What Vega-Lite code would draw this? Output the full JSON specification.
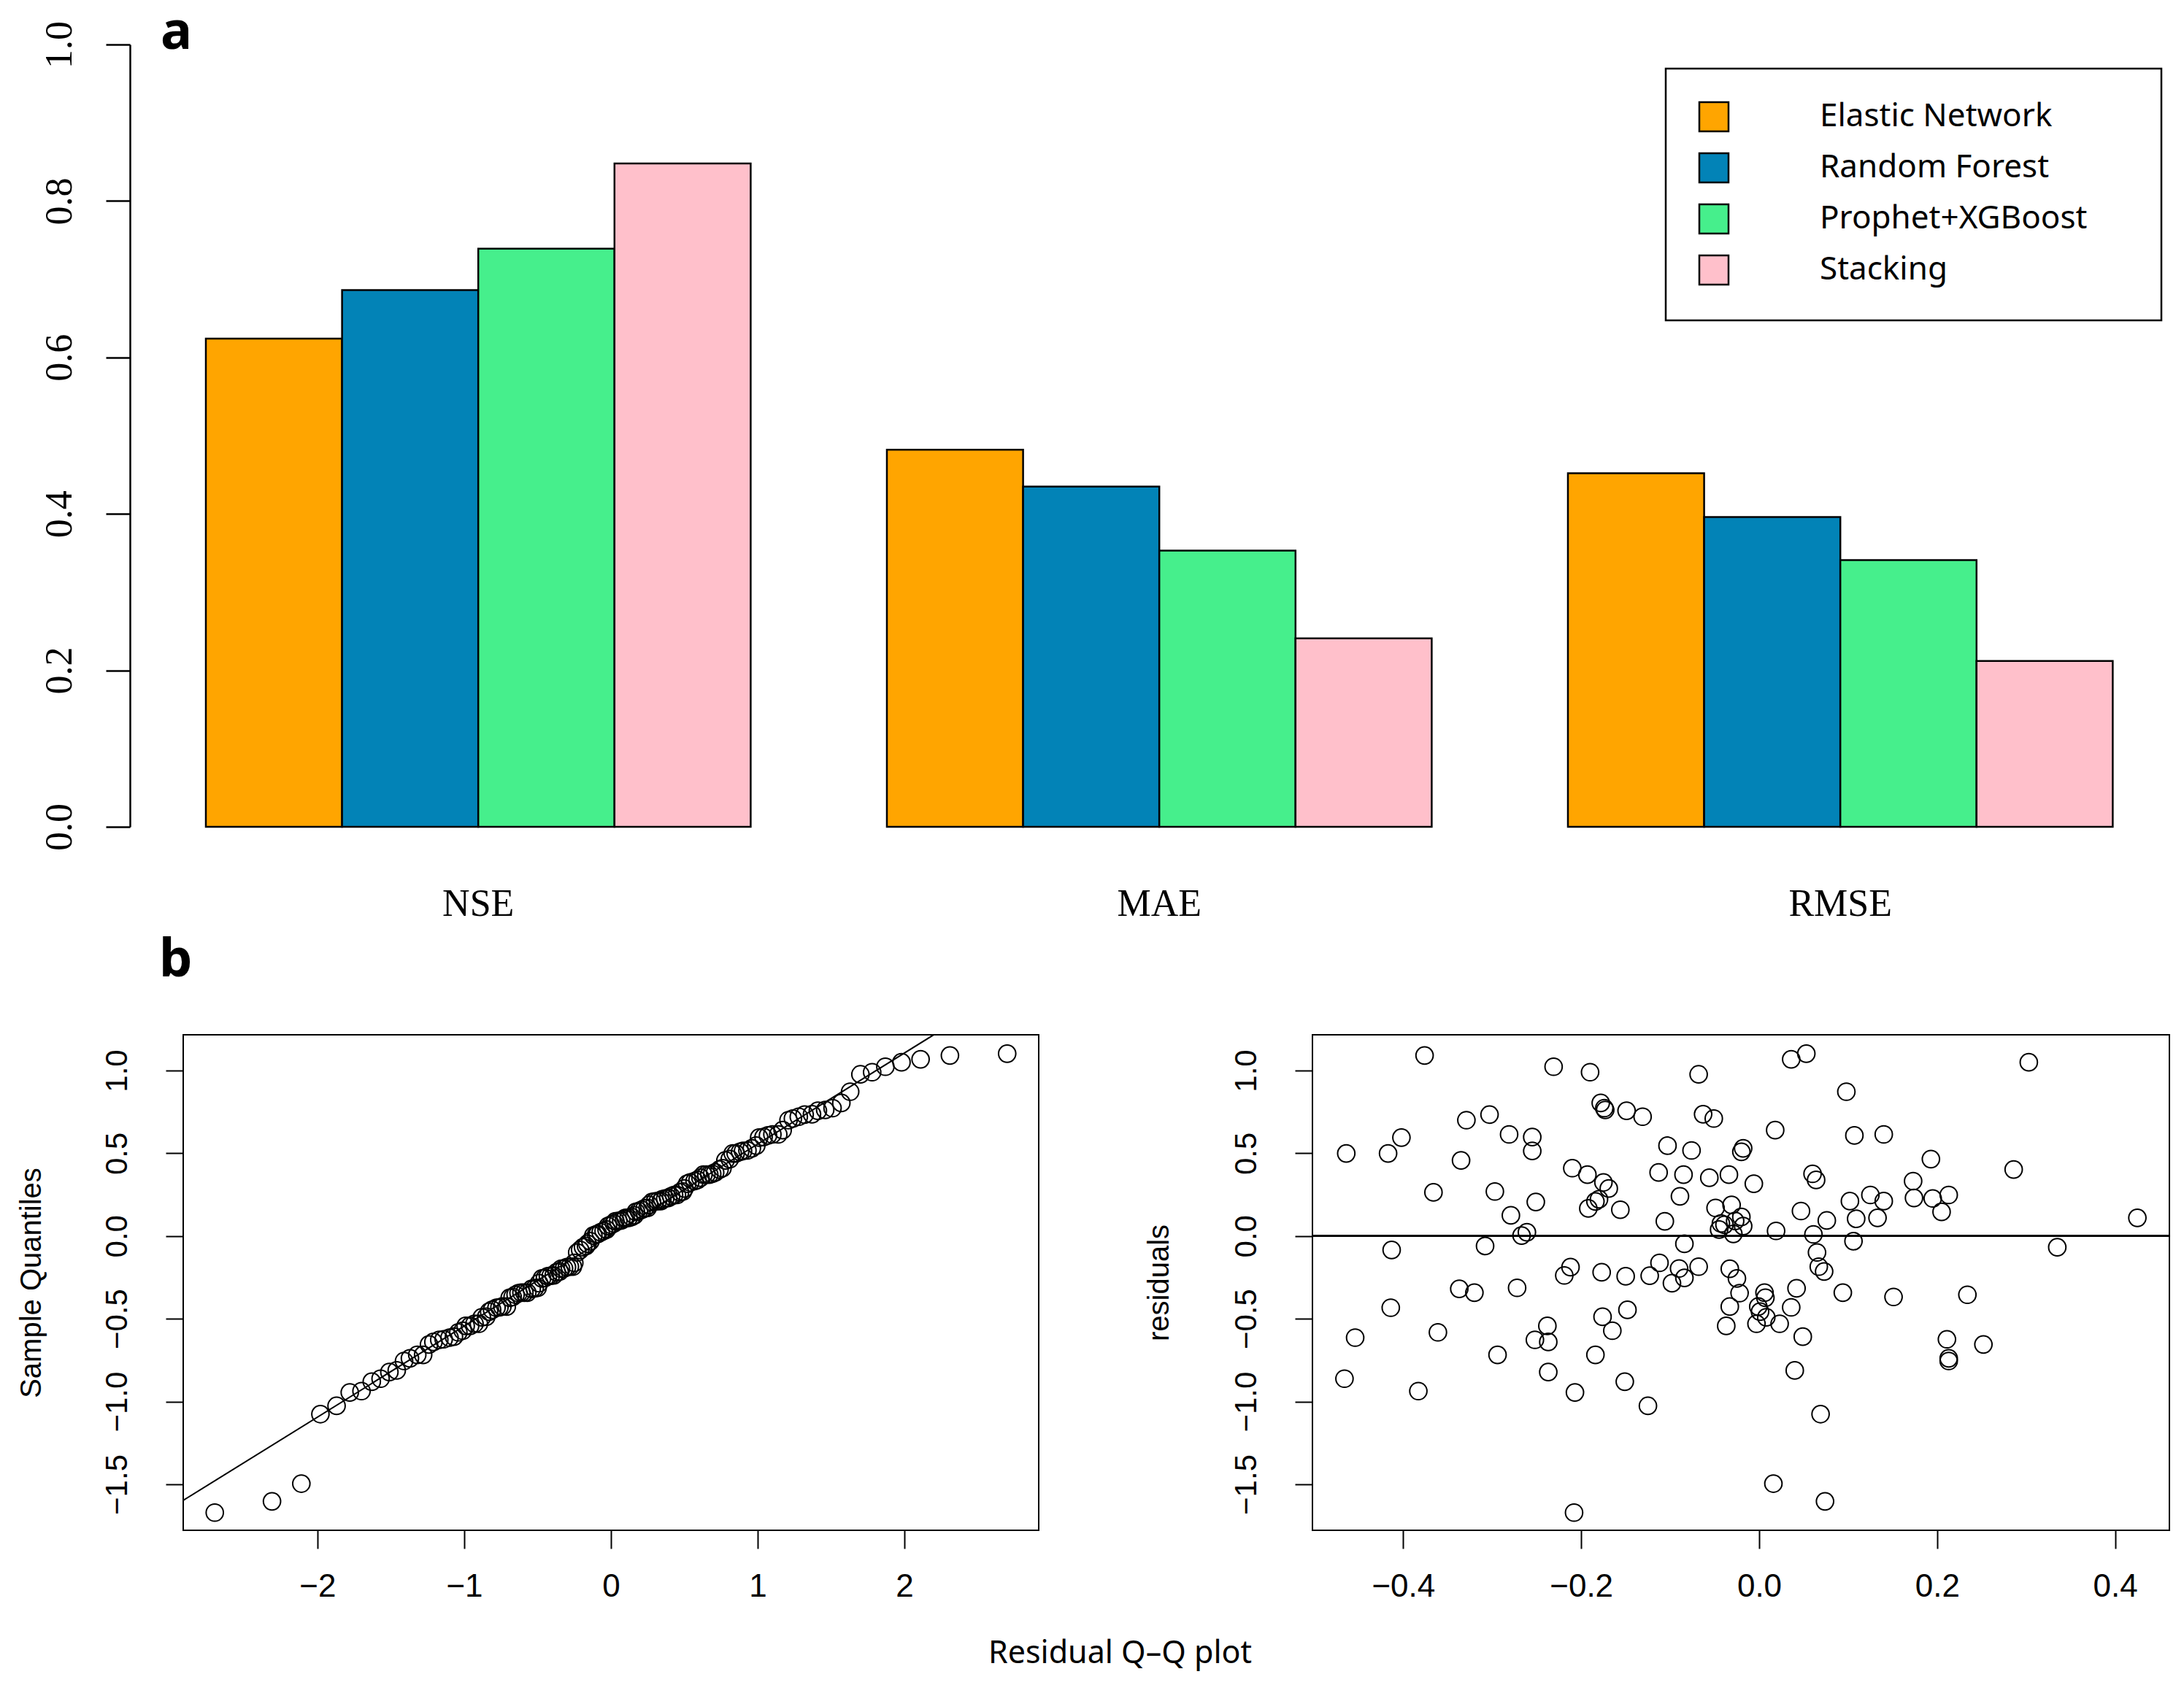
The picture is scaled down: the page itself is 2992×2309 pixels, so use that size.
{
  "$schema": "https://vega.github.io/schema/vega-lite/v6.json",
  "background": "white",
  "padding": {"left": 22, "top": 8, "right": 0, "bottom": 12},
  "bounds": "flush",
  "spacing": 285,
  "config": {
    "font": "Liberation Sans",
    "axis": {"grid": false, "labelColor": "black", "tickColor": "black", "domainColor": "black", "titleColor": "black"},
    "title": {"color": "black"},
    "legend": {"strokeWidth": 2.5}
  },
  "datasets": {
    "bars": [
      {"metric": "NSE", "model": "Elastic Network", "value": 0.624},
      {"metric": "NSE", "model": "Random Forest", "value": 0.686},
      {"metric": "NSE", "model": "Prophet+XGBoost", "value": 0.739},
      {"metric": "NSE", "model": "Stacking", "value": 0.848},
      {"metric": "MAE", "model": "Elastic Network", "value": 0.482},
      {"metric": "MAE", "model": "Random Forest", "value": 0.435},
      {"metric": "MAE", "model": "Prophet+XGBoost", "value": 0.353},
      {"metric": "MAE", "model": "Stacking", "value": 0.241},
      {"metric": "RMSE", "model": "Elastic Network", "value": 0.452},
      {"metric": "RMSE", "model": "Random Forest", "value": 0.396},
      {"metric": "RMSE", "model": "Prophet+XGBoost", "value": 0.341},
      {"metric": "RMSE", "model": "Stacking", "value": 0.212}
    ],
    "qqline": [
      {"theoretical": -3.2, "sample": -1.754, "theoretical2": 3.2, "sample2": 1.766}
    ],
    "qq": [
      {"theoretical": -2.70, "sample": -1.671}, {"theoretical": -2.31, "sample": -1.603},
      {"theoretical": -2.11, "sample": -1.496}, {"theoretical": -1.98, "sample": -1.076},
      {"theoretical": -1.87, "sample": -1.026}, {"theoretical": -1.78, "sample": -0.945},
      {"theoretical": -1.70, "sample": -0.937}, {"theoretical": -1.63, "sample": -0.880},
      {"theoretical": -1.57, "sample": -0.862}, {"theoretical": -1.51, "sample": -0.822},
      {"theoretical": -1.46, "sample": -0.812}, {"theoretical": -1.41, "sample": -0.755},
      {"theoretical": -1.37, "sample": -0.739}, {"theoretical": -1.32, "sample": -0.718},
      {"theoretical": -1.28, "sample": -0.718}, {"theoretical": -1.24, "sample": -0.655},
      {"theoretical": -1.21, "sample": -0.640}, {"theoretical": -1.17, "sample": -0.627},
      {"theoretical": -1.14, "sample": -0.624}, {"theoretical": -1.10, "sample": -0.614},
      {"theoretical": -1.07, "sample": -0.608}, {"theoretical": -1.04, "sample": -0.582},
      {"theoretical": -1.01, "sample": -0.572}, {"theoretical": -0.99, "sample": -0.543},
      {"theoretical": -0.96, "sample": -0.543}, {"theoretical": -0.93, "sample": -0.530},
      {"theoretical": -0.90, "sample": -0.530}, {"theoretical": -0.88, "sample": -0.491},
      {"theoretical": -0.85, "sample": -0.488}, {"theoretical": -0.83, "sample": -0.457},
      {"theoretical": -0.81, "sample": -0.446}, {"theoretical": -0.78, "sample": -0.433},
      {"theoretical": -0.76, "sample": -0.431}, {"theoretical": -0.74, "sample": -0.426},
      {"theoretical": -0.71, "sample": -0.426}, {"theoretical": -0.69, "sample": -0.373},
      {"theoretical": -0.67, "sample": -0.368}, {"theoretical": -0.65, "sample": -0.355},
      {"theoretical": -0.63, "sample": -0.345}, {"theoretical": -0.61, "sample": -0.342},
      {"theoretical": -0.59, "sample": -0.342}, {"theoretical": -0.57, "sample": -0.342},
      {"theoretical": -0.54, "sample": -0.319}, {"theoretical": -0.52, "sample": -0.316},
      {"theoretical": -0.50, "sample": -0.313}, {"theoretical": -0.49, "sample": -0.285},
      {"theoretical": -0.47, "sample": -0.256}, {"theoretical": -0.45, "sample": -0.253},
      {"theoretical": -0.43, "sample": -0.243}, {"theoretical": -0.41, "sample": -0.240},
      {"theoretical": -0.39, "sample": -0.238}, {"theoretical": -0.37, "sample": -0.219},
      {"theoretical": -0.35, "sample": -0.214}, {"theoretical": -0.34, "sample": -0.198},
      {"theoretical": -0.32, "sample": -0.196}, {"theoretical": -0.30, "sample": -0.188},
      {"theoretical": -0.28, "sample": -0.185}, {"theoretical": -0.26, "sample": -0.185},
      {"theoretical": -0.25, "sample": -0.162}, {"theoretical": -0.23, "sample": -0.099},
      {"theoretical": -0.21, "sample": -0.084}, {"theoretical": -0.19, "sample": -0.068},
      {"theoretical": -0.17, "sample": -0.060}, {"theoretical": -0.16, "sample": -0.047},
      {"theoretical": -0.14, "sample": -0.031}, {"theoretical": -0.12, "sample": 0.003},
      {"theoretical": -0.10, "sample": 0.010}, {"theoretical": -0.09, "sample": 0.013},
      {"theoretical": -0.07, "sample": 0.023}, {"theoretical": -0.05, "sample": 0.031},
      {"theoretical": -0.03, "sample": 0.039}, {"theoretical": -0.02, "sample": 0.060},
      {"theoretical": 0.00, "sample": 0.068}, {"theoretical": 0.02, "sample": 0.076},
      {"theoretical": 0.03, "sample": 0.089}, {"theoretical": 0.05, "sample": 0.091},
      {"theoretical": 0.07, "sample": 0.094}, {"theoretical": 0.09, "sample": 0.104},
      {"theoretical": 0.10, "sample": 0.110}, {"theoretical": 0.12, "sample": 0.110},
      {"theoretical": 0.14, "sample": 0.115}, {"theoretical": 0.16, "sample": 0.125},
      {"theoretical": 0.17, "sample": 0.146}, {"theoretical": 0.19, "sample": 0.151},
      {"theoretical": 0.21, "sample": 0.159}, {"theoretical": 0.23, "sample": 0.167},
      {"theoretical": 0.25, "sample": 0.170}, {"theoretical": 0.26, "sample": 0.188},
      {"theoretical": 0.28, "sample": 0.206}, {"theoretical": 0.30, "sample": 0.209},
      {"theoretical": 0.32, "sample": 0.211}, {"theoretical": 0.34, "sample": 0.211},
      {"theoretical": 0.35, "sample": 0.222}, {"theoretical": 0.37, "sample": 0.227},
      {"theoretical": 0.39, "sample": 0.230}, {"theoretical": 0.41, "sample": 0.240},
      {"theoretical": 0.43, "sample": 0.248}, {"theoretical": 0.45, "sample": 0.248},
      {"theoretical": 0.47, "sample": 0.264}, {"theoretical": 0.49, "sample": 0.269},
      {"theoretical": 0.50, "sample": 0.287}, {"theoretical": 0.52, "sample": 0.316},
      {"theoretical": 0.54, "sample": 0.324}, {"theoretical": 0.57, "sample": 0.332},
      {"theoretical": 0.59, "sample": 0.339}, {"theoretical": 0.61, "sample": 0.352},
      {"theoretical": 0.63, "sample": 0.371}, {"theoretical": 0.65, "sample": 0.371},
      {"theoretical": 0.67, "sample": 0.371}, {"theoretical": 0.69, "sample": 0.376},
      {"theoretical": 0.71, "sample": 0.384}, {"theoretical": 0.74, "sample": 0.402},
      {"theoretical": 0.76, "sample": 0.410}, {"theoretical": 0.78, "sample": 0.457},
      {"theoretical": 0.81, "sample": 0.465}, {"theoretical": 0.83, "sample": 0.499},
      {"theoretical": 0.85, "sample": 0.499}, {"theoretical": 0.88, "sample": 0.509},
      {"theoretical": 0.90, "sample": 0.514}, {"theoretical": 0.93, "sample": 0.517},
      {"theoretical": 0.96, "sample": 0.530}, {"theoretical": 0.99, "sample": 0.546},
      {"theoretical": 1.01, "sample": 0.595}, {"theoretical": 1.04, "sample": 0.598},
      {"theoretical": 1.07, "sample": 0.608}, {"theoretical": 1.10, "sample": 0.614},
      {"theoretical": 1.14, "sample": 0.614}, {"theoretical": 1.17, "sample": 0.640},
      {"theoretical": 1.21, "sample": 0.700}, {"theoretical": 1.24, "sample": 0.710},
      {"theoretical": 1.28, "sample": 0.721}, {"theoretical": 1.32, "sample": 0.734},
      {"theoretical": 1.37, "sample": 0.736}, {"theoretical": 1.41, "sample": 0.757},
      {"theoretical": 1.46, "sample": 0.762}, {"theoretical": 1.51, "sample": 0.773},
      {"theoretical": 1.57, "sample": 0.804}, {"theoretical": 1.63, "sample": 0.872},
      {"theoretical": 1.70, "sample": 0.977}, {"theoretical": 1.78, "sample": 0.990},
      {"theoretical": 1.87, "sample": 1.023}, {"theoretical": 1.98, "sample": 1.050},
      {"theoretical": 2.11, "sample": 1.068}, {"theoretical": 2.31, "sample": 1.091},
      {"theoretical": 2.70, "sample": 1.102}
    ],
    "resid": [
      {"fitted": -0.376, "residual": 1.091}, {"fitted": -0.231, "residual": 1.023},
      {"fitted": -0.190, "residual": 0.990}, {"fitted": -0.068, "residual": 0.977},
      {"fitted": 0.036, "residual": 1.068}, {"fitted": 0.053, "residual": 1.102},
      {"fitted": 0.303, "residual": 1.050}, {"fitted": 0.098, "residual": 0.872},
      {"fitted": -0.178, "residual": 0.804}, {"fitted": -0.174, "residual": 0.773},
      {"fitted": -0.173, "residual": 0.762}, {"fitted": -0.149, "residual": 0.757},
      {"fitted": -0.131, "residual": 0.721}, {"fitted": -0.063, "residual": 0.736},
      {"fitted": -0.051, "residual": 0.710}, {"fitted": -0.329, "residual": 0.700},
      {"fitted": -0.303, "residual": 0.734}, {"fitted": -0.402, "residual": 0.595},
      {"fitted": -0.281, "residual": 0.614}, {"fitted": -0.255, "residual": 0.598},
      {"fitted": -0.255, "residual": 0.514}, {"fitted": -0.464, "residual": 0.499},
      {"fitted": -0.417, "residual": 0.499}, {"fitted": 0.018, "residual": 0.640},
      {"fitted": 0.107, "residual": 0.608}, {"fitted": 0.140, "residual": 0.614},
      {"fitted": -0.103, "residual": 0.546}, {"fitted": -0.076, "residual": 0.517},
      {"fitted": -0.020, "residual": 0.509}, {"fitted": -0.018, "residual": 0.530},
      {"fitted": -0.335, "residual": 0.457}, {"fitted": 0.193, "residual": 0.465},
      {"fitted": -0.210, "residual": 0.410}, {"fitted": -0.193, "residual": 0.371},
      {"fitted": -0.113, "residual": 0.384}, {"fitted": -0.085, "residual": 0.371},
      {"fitted": -0.056, "residual": 0.352}, {"fitted": -0.034, "residual": 0.371},
      {"fitted": 0.060, "residual": 0.376}, {"fitted": 0.064, "residual": 0.339},
      {"fitted": 0.286, "residual": 0.402}, {"fitted": -0.366, "residual": 0.264},
      {"fitted": -0.297, "residual": 0.269}, {"fitted": -0.175, "residual": 0.324},
      {"fitted": -0.169, "residual": 0.287}, {"fitted": -0.006, "residual": 0.316},
      {"fitted": 0.173, "residual": 0.332}, {"fitted": -0.251, "residual": 0.206},
      {"fitted": -0.192, "residual": 0.167}, {"fitted": -0.184, "residual": 0.209},
      {"fitted": -0.180, "residual": 0.222}, {"fitted": -0.156, "residual": 0.159},
      {"fitted": -0.089, "residual": 0.240}, {"fitted": -0.049, "residual": 0.170},
      {"fitted": -0.031, "residual": 0.188}, {"fitted": 0.102, "residual": 0.211},
      {"fitted": 0.125, "residual": 0.248}, {"fitted": 0.140, "residual": 0.211},
      {"fitted": 0.174, "residual": 0.230}, {"fitted": 0.195, "residual": 0.227},
      {"fitted": 0.213, "residual": 0.248}, {"fitted": 0.205, "residual": 0.146},
      {"fitted": 0.047, "residual": 0.151}, {"fitted": -0.279, "residual": 0.125},
      {"fitted": -0.106, "residual": 0.089}, {"fitted": -0.043, "residual": 0.076},
      {"fitted": -0.039, "residual": 0.068}, {"fitted": -0.027, "residual": 0.091},
      {"fitted": -0.020, "residual": 0.115}, {"fitted": -0.018, "residual": 0.060},
      {"fitted": -0.045, "residual": 0.039}, {"fitted": -0.029, "residual": 0.013},
      {"fitted": 0.019, "residual": 0.031}, {"fitted": 0.061, "residual": 0.010},
      {"fitted": 0.076, "residual": 0.094}, {"fitted": 0.109, "residual": 0.104},
      {"fitted": 0.133, "residual": 0.110}, {"fitted": 0.425, "residual": 0.110},
      {"fitted": -0.267, "residual": 0.003}, {"fitted": -0.261, "residual": 0.023},
      {"fitted": -0.308, "residual": -0.060}, {"fitted": -0.413, "residual": -0.084},
      {"fitted": -0.084, "residual": -0.047}, {"fitted": 0.106, "residual": -0.031},
      {"fitted": 0.335, "residual": -0.068}, {"fitted": 0.065, "residual": -0.099},
      {"fitted": -0.112, "residual": -0.162}, {"fitted": -0.068, "residual": -0.185},
      {"fitted": -0.212, "residual": -0.188}, {"fitted": -0.219, "residual": -0.238},
      {"fitted": -0.177, "residual": -0.219}, {"fitted": -0.150, "residual": -0.243},
      {"fitted": -0.123, "residual": -0.240}, {"fitted": -0.090, "residual": -0.196},
      {"fitted": -0.084, "residual": -0.253}, {"fitted": -0.098, "residual": -0.285},
      {"fitted": -0.033, "residual": -0.198}, {"fitted": -0.025, "residual": -0.256},
      {"fitted": 0.067, "residual": -0.185}, {"fitted": 0.073, "residual": -0.214},
      {"fitted": -0.337, "residual": -0.319}, {"fitted": -0.320, "residual": -0.342},
      {"fitted": -0.272, "residual": -0.313}, {"fitted": -0.022, "residual": -0.345},
      {"fitted": 0.006, "residual": -0.342}, {"fitted": 0.007, "residual": -0.373},
      {"fitted": 0.042, "residual": -0.316}, {"fitted": 0.094, "residual": -0.342},
      {"fitted": 0.151, "residual": -0.368}, {"fitted": 0.234, "residual": -0.355},
      {"fitted": -0.414, "residual": -0.433}, {"fitted": -0.033, "residual": -0.426},
      {"fitted": -0.001, "residual": -0.426}, {"fitted": 0.001, "residual": -0.457},
      {"fitted": 0.036, "residual": -0.431}, {"fitted": 0.008, "residual": -0.491},
      {"fitted": -0.003, "residual": -0.530}, {"fitted": 0.023, "residual": -0.530},
      {"fitted": -0.148, "residual": -0.446}, {"fitted": -0.176, "residual": -0.488},
      {"fitted": -0.238, "residual": -0.543}, {"fitted": -0.037, "residual": -0.543},
      {"fitted": -0.361, "residual": -0.582}, {"fitted": -0.454, "residual": -0.614},
      {"fitted": -0.252, "residual": -0.627}, {"fitted": -0.237, "residual": -0.640},
      {"fitted": -0.165, "residual": -0.572}, {"fitted": 0.049, "residual": -0.608},
      {"fitted": 0.211, "residual": -0.624}, {"fitted": 0.252, "residual": -0.655},
      {"fitted": 0.213, "residual": -0.739}, {"fitted": 0.213, "residual": -0.755},
      {"fitted": -0.294, "residual": -0.718}, {"fitted": -0.184, "residual": -0.718},
      {"fitted": -0.237, "residual": -0.822}, {"fitted": 0.040, "residual": -0.812},
      {"fitted": -0.466, "residual": -0.862}, {"fitted": -0.151, "residual": -0.880},
      {"fitted": -0.383, "residual": -0.937}, {"fitted": -0.207, "residual": -0.945},
      {"fitted": -0.125, "residual": -1.026}, {"fitted": 0.069, "residual": -1.076},
      {"fitted": 0.016, "residual": -1.496}, {"fitted": 0.074, "residual": -1.603},
      {"fitted": -0.208, "residual": -1.671}
    ]
  },
  "vconcat": [
    {
      "width": 2740,
      "height": 1072,
      "data": {"name": "bars"},
      "view": {"stroke": null},
      "title": {
        "text": "a",
        "anchor": "start",
        "frame": "group",
        "font": "Noto Sans",
        "fontSize": 72,
        "fontWeight": "bold",
        "baseline": "alphabetic",
        "dx": -31,
        "offset": -110
      },
      "mark": {"type": "bar", "stroke": "black", "strokeWidth": 2.5},
      "encoding": {
        "x": {
          "field": "metric",
          "type": "nominal",
          "sort": ["NSE", "MAE", "RMSE"],
          "scale": {"paddingInner": 0.2, "paddingOuter": 0.0684, "align": 0.243},
          "axis": {
            "title": null,
            "domain": false,
            "ticks": false,
            "tickSize": 0,
            "labelAngle": 0,
            "labelFont": "Liberation Serif",
            "labelFontSize": 52,
            "labelBaseline": "middle",
            "labelPadding": 105
          }
        },
        "xOffset": {
          "field": "model",
          "type": "nominal",
          "sort": ["Elastic Network", "Random Forest", "Prophet+XGBoost", "Stacking"],
          "scale": {"paddingInner": 0, "paddingOuter": 0}
        },
        "y": {
          "field": "value",
          "type": "quantitative",
          "scale": {"domain": [0, 1], "nice": false},
          "axis": {
            "title": null,
            "values": [0, 0.2, 0.4, 0.6, 0.8, 1.0],
            "format": ".1f",
            "offset": 73,
            "domainWidth": 2.5,
            "tickWidth": 2.5,
            "tickSize": 33,
            "labelAngle": -90,
            "labelAlign": "center",
            "labelBaseline": "middle",
            "labelPadding": 64,
            "labelFont": "Liberation Serif",
            "labelFontSize": 52
          }
        },
        "color": {
          "field": "model",
          "type": "nominal",
          "sort": ["Elastic Network", "Random Forest", "Prophet+XGBoost", "Stacking"],
          "scale": {
            "domain": ["Elastic Network", "Random Forest", "Prophet+XGBoost", "Stacking"],
            "range": ["#FFA500", "#0283B7", "#46EF8C", "#FFC0CB"]
          },
          "legend": {
            "title": null,
            "orient": "none",
            "legendX": 2031,
            "legendY": 33,
            "direction": "vertical",
            "symbolType": "square",
            "symbolSize": 1600,
            "symbolStrokeColor": "black",
            "symbolStrokeWidth": 2.5,
            "symbolOpacity": 1,
            "labelFont": "Noto Sans",
            "labelFontSize": 44,
            "labelColor": "black",
            "labelOffset": 123,
            "labelLimit": 2000,
            "labelExpr": "datum.label + '\u00a0\u00a0\u00a0\u00a0\u00a0\u200b'",
            "rowPadding": 20,
            "padding": 44,
            "strokeColor": "black",
            "fillColor": "white"
          }
        }
      }
    },
    {
      "bounds": "flush",
      "spacing": 375,
      "title": {
        "text": "b",
        "anchor": "start",
        "frame": "group",
        "font": "Noto Sans",
        "fontSize": 72,
        "fontWeight": "bold",
        "baseline": "alphabetic",
        "dx": -33,
        "offset": 7
      },
      "hconcat": [
        {
          "width": 1172,
          "height": 679,
          "view": {"stroke": "black", "strokeWidth": 2},
          "encoding": {
            "x": {
              "field": "theoretical",
              "type": "quantitative",
              "title": "Residual Q–Q plot",
              "scale": {"domain": [-2.915, 2.915], "nice": false, "zero": false},
              "axis": {
                "values": [-2, -1, 0, 1, 2],
                "domain": false,
                "tickWidth": 2,
                "tickSize": 25,
                "labelFont": "Liberation Sans",
                "labelFontSize": 44,
                "labelBaseline": "middle",
                "labelPadding": 52,
                "titleFont": "Noto Sans",
                "titleFontSize": 43,
                "titleFontWeight": "normal",
                "titleAlign": "center",
                "titleBaseline": "middle",
                "titleX": 1283,
                "titleY": 168
              }
            },
            "y": {
              "field": "sample",
              "type": "quantitative",
              "title": "Sample Quantiles",
              "scale": {"domain": [-1.778, 1.216], "nice": false, "zero": false},
              "axis": {
                "values": [-1.5, -1, -0.5, 0, 0.5, 1],
                "format": ".1f",
                "domain": false,
                "tickWidth": 2,
                "tickSize": 24,
                "labelAngle": -90,
                "labelAlign": "center",
                "labelBaseline": "middle",
                "labelPadding": 67,
                "labelFont": "Liberation Sans",
                "labelFontSize": 42,
                "titleFont": "Liberation Sans",
                "titleFontSize": 40,
                "titleFontWeight": "normal",
                "titleAngle": -90,
                "titleAlign": "center",
                "titleBaseline": "middle",
                "titleX": -208,
                "titleY": 339.5
              }
            }
          },
          "layer": [
            {
              "data": {"name": "qqline"},
              "mark": {"type": "rule", "clip": true, "stroke": "black", "strokeWidth": 2},
              "encoding": {
                "x2": {"field": "theoretical2"},
                "y2": {"field": "sample2"}
              }
            },
            {
              "data": {"name": "qq"},
              "mark": {"type": "point", "shape": "circle", "filled": false, "stroke": "black", "strokeWidth": 2, "size": 560, "opacity": 1}
            }
          ]
        },
        {
          "width": 1174,
          "height": 679,
          "view": {"stroke": "black", "strokeWidth": 2},
          "data": {"name": "resid"},
          "layer": [
            {
              "mark": {"type": "rule", "stroke": "black", "strokeWidth": 2},
              "encoding": {"y": {"datum": 0, "type": "quantitative"}}
            },
            {
              "mark": {"type": "point", "shape": "circle", "filled": false, "stroke": "black", "strokeWidth": 2, "size": 560, "opacity": 1},
              "encoding": {
                "x": {
                  "field": "fitted",
                  "type": "quantitative",
                  "title": null,
                  "scale": {"domain": [-0.502, 0.461], "nice": false, "zero": false},
                  "axis": {
                    "values": [-0.4, -0.2, 0, 0.2, 0.4],
                    "format": ".1f",
                    "domain": false,
                    "tickWidth": 2,
                    "tickSize": 25,
                    "labelFont": "Liberation Sans",
                    "labelFontSize": 44,
                    "labelBaseline": "middle",
                    "labelPadding": 52
                  }
                },
                "y": {
                  "field": "residual",
                  "type": "quantitative",
                  "title": "residuals",
                  "scale": {"domain": [-1.778, 1.216], "nice": false, "zero": false},
                  "axis": {
                    "values": [-1.5, -1, -0.5, 0, 0.5, 1],
                    "format": ".1f",
                    "domain": false,
                    "tickWidth": 2,
                    "tickSize": 24,
                    "labelAngle": -90,
                    "labelAlign": "center",
                    "labelBaseline": "middle",
                    "labelPadding": 67,
                    "labelFont": "Liberation Sans",
                    "labelFontSize": 42,
                    "titleFont": "Liberation Sans",
                    "titleFontSize": 40,
                    "titleFontWeight": "normal",
                    "titleAngle": -90,
                    "titleAlign": "center",
                    "titleBaseline": "middle",
                    "titleX": -210,
                    "titleY": 339.5
                  }
                }
              }
            }
          ]
        }
      ]
    }
  ]
}
